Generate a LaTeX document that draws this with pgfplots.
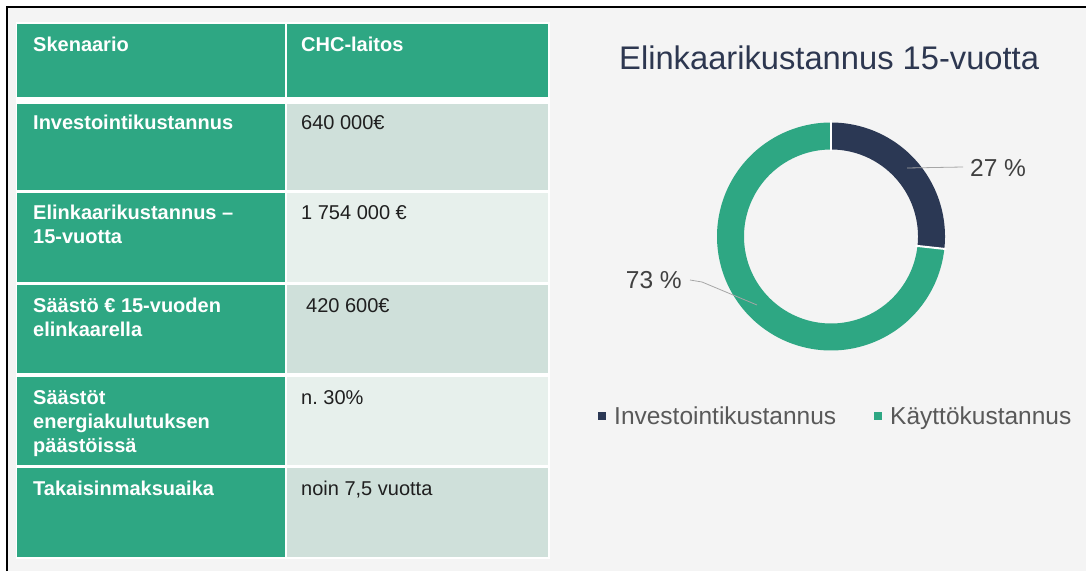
\documentclass[border=0pt]{standalone}
\usepackage{fontspec}
\setmainfont{Liberation Sans}
\usepackage{pgfplots}
\pgfplotsset{compat=1.18}
\frenchspacing
\definecolor{tgreen}{RGB}{46,167,131}
\definecolor{navy}{RGB}{43,56,84}
\definecolor{cellA}{RGB}{207,224,218}
\definecolor{cellB}{RGB}{231,240,236}
\definecolor{bg}{RGB}{244,244,244}
\definecolor{titlec}{RGB}{45,55,80}
\definecolor{legc}{RGB}{89,89,89}
\definecolor{labc}{RGB}{64,64,64}
\definecolor{leader}{RGB}{166,166,166}
% data (k EUR): investment, operating cost
\def\valInv{640}
\def\valKay{1754}
\begin{document}
\begin{tikzpicture}[x=1pt,y=1pt,
  tl/.style={anchor=base west, inner sep=0pt, align=left, font=\fontsize{20}{24}\selectfont\bfseries, text=white},
  tr/.style={anchor=base west, inner sep=0pt, align=left, font=\fontsize{20}{24}\selectfont, text=black!88}]
\useasboundingbox (0,0) rectangle (1086,571);
\fill[white] (0,0) rectangle (1086,571);
\fill[bg] (7,0) rectangle (1086,564);
\draw[black, line width=2.2pt] (7,0) -- (7,564) -- (1086,564);
% table
\fill[white] (15.5,12.5) rectangle (549.5,548.5);
% header
\fill[tgreen] (17,474) rectangle (285,547);
\fill[tgreen] (287,474) rectangle (548,547);
% rows
\fill[tgreen] (17,381) rectangle (285,467);  \fill[cellA] (287,381) rectangle (548,467);
\fill[tgreen] (17,289) rectangle (285,378);  \fill[cellB] (287,289) rectangle (548,378);
\fill[tgreen] (17,198) rectangle (285,286);  \fill[cellA] (287,198) rectangle (548,286);
\fill[tgreen] (17,106) rectangle (285,194);  \fill[cellB] (287,106) rectangle (548,194);
\fill[tgreen] (17,14) rectangle (285,103);   \fill[cellA] (287,14) rectangle (548,103);
% texts (multi-line nodes: base = last line's baseline)
\node[tl] at (33,519) {Skenaario};
\node[tl] at (301,519) {CHC-laitos};
\node[tl] at (33,441) {Investointikustannus};
\node[tr] at (301,441) {640 000€};
\node[tl] at (33,327) {Elinkaarikustannus –\\15-vuotta};
\node[tr] at (301,351) {1 754 000 €};
\node[tl] at (33,235) {Säästö € 15-vuoden\\elinkaarella};
\node[tr] at (306,259) {420 600€};
\node[tl] at (33,119) {Säästöt\\energiakulutuksen\\päästöissä};
\node[tr] at (301,167) {n.\ 30\%};
\node[tl] at (33,76) {Takaisinmaksuaika};
\node[tr] at (301,76) {noin 7,5 vuotta};
% title
\node[anchor=base west, inner sep=0pt, font=\fontsize{32.7}{38}\selectfont, text=titlec] at (619,501.5) {Elinkaarikustannus 15-vuotta};
% donut
\pgfmathsetmacro{\fracA}{\valInv/(\valInv+\valKay)}
\pgfmathsetmacro{\angA}{90-360*\fracA}
\begin{axis}[at={(831,334.5)}, anchor=center, width=228pt, height=228pt, scale only axis,
  xmin=-114, xmax=114, ymin=-114, ymax=114, hide axis, clip=false,
  legend columns=2,
  legend image code/.code={\fill[#1, draw=none, line width=0pt] (0pt,-4pt) rectangle (8pt,4pt); \path[draw=none, fill=none] (0pt,0pt) (16pt,0pt);},
  legend style={at={(-0.522,-0.287)}, anchor=west, draw=none, fill=none, inner sep=0pt,
    nodes={inner sep=0pt}, font=\fontsize{24.5}{28}\selectfont, text=legc,
    /tikz/every even column/.append style={column sep=38pt}}]
\addplot[navy, line width=27pt, domain=\angA:90, samples=120] ({100.5*cos(x)},{100.5*sin(x)});
\addlegendentry{Investointikustannus}
\addplot[tgreen, line width=27pt, domain=-270:\angA, samples=240] ({100.5*cos(x)},{100.5*sin(x)});
\addlegendentry{Käyttökustannus}
\addplot[white, line width=2pt, domain=85:116, samples=2, forget plot] ({x*cos(90)},{x*sin(90)});
\addplot[white, line width=2pt, domain=85:116, samples=2, forget plot] ({x*cos(\angA)},{x*sin(\angA)});
% leader lines and labels
\draw[leader, line width=0.8pt] (axis cs:76,68.5) -- (axis cs:132,69.5);
\draw[leader, line width=0.8pt] (axis cs:-141,-43.5) -- (axis cs:-129,-45.5) -- (axis cs:-74,-68.5);
\node[anchor=west, inner sep=0pt, font=\fontsize{24.5}{28}\selectfont, text=labc] at (axis cs:139,68.5) {27 \%};
\node[anchor=east, inner sep=0pt, font=\fontsize{24.5}{28}\selectfont, text=labc] at (axis cs:-149,-43.5) {73 \%};
\end{axis}
\end{tikzpicture}
\end{document}
